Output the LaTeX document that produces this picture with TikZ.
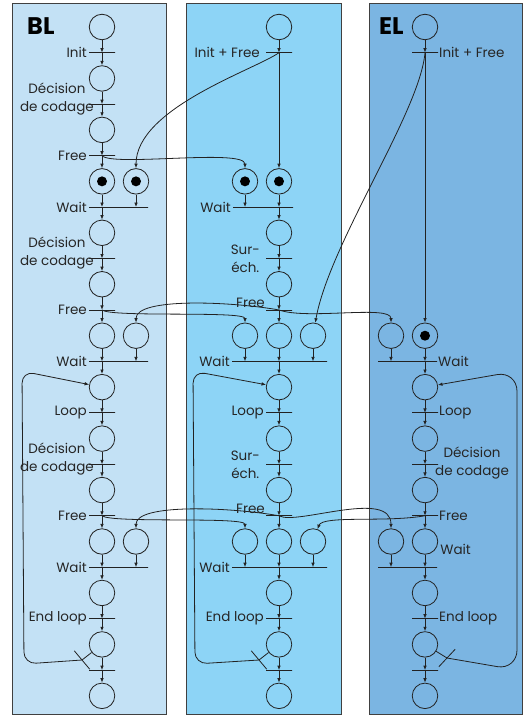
\documentclass[tikz,border=0pt]{standalone}
\usepackage{fontspec}
\setmainfont{Poppins}
\usetikzlibrary{positioning, arrows.meta, calc}

\definecolor{blpanel}{HTML}{C3E1F5}
\definecolor{mdpanel}{HTML}{8DD4F6}
\definecolor{elpanel}{HTML}{7BB5E2}
\definecolor{netline}{HTML}{222222}

\tikzset{
  place/.style={circle, draw=netline, line width=0.8pt, minimum size=25.5pt, inner sep=0pt},
  marked/.style={place, path picture={\fill[black] (path picture bounding box.center) circle (5pt);}},
  bar/.style={draw=netline, line width=0.8pt, minimum width=26pt, minimum height=0pt, inner sep=0pt, outer sep=0pt},
  arr/.style={-{Latex[length=4.5pt, width=3.6pt]}, line width=0.8pt, draw=netline},
  lbl/.style={font=\fontsize{13.5}{18}\selectfont, text=black!85, inner sep=1pt},
  panelname/.style={font=\fontsize{24}{24}\selectfont\bfseries, inner sep=0pt}
}

\begin{document}
\begin{tikzpicture}[x=1pt, y=-1pt]
  \def\xb{102}
  \def\xm{279}
  \def\xe{425}
  \def\dy{51.45}
  \useasboundingbox (0,0) rectangle (524,717);
  \draw[fill=blpanel, draw=black!75, line width=0.9pt] (12,3) rectangle (166,714);
  \draw[fill=mdpanel, draw=black!75, line width=0.9pt] (186,3) rectangle (341,714);
  \draw[fill=elpanel, draw=black!75, line width=0.9pt] (369,3) rectangle (522,714);
  \node[panelname, anchor=base west] (tbl) at (27,35) {BL};
  \node[panelname, anchor=base west] (tel) at (379,35) {EL};

  % BL
  \foreach \k in {0,1,2,4,5,...,13}
    \node[place] (b\k) at (\xb,{27+\dy*\k}) {};
  \node[marked] (b3) at (\xb,{27+\dy*3}) {};
  \node[marked] (bs3) at (\xb+34,{27+\dy*3}) {};
  \node[place] (bs6) at (\xb+34,{27+\dy*6}) {};
  \node[place] (bs10) at (\xb+34,{27+\dy*10}) {};
  \foreach \k in {0,1,2,4,5,7,8,9,11,12}
    \node[bar] (bt\k) at (\xb,{52.7+\dy*\k}) {};
  \foreach \k in {3,6,10}
    \node[bar, minimum width=59pt] (bt\k) at (\xb+16.5,{52.7+\dy*\k}) {};
  \node[bar, minimum width=24pt, rotate=-50] (bx) at (82,660) {};
  \foreach \k [count=\n] in {0,...,12} {
    \draw[arr] (b\k) -- (b\k |- bt\k);
    \draw[arr] (b\k |- bt\k) -- (b\n);
  }
  \foreach \k in {3,6,10}
    \draw[arr] (bs\k) -- (bs\k |- bt\k);
  \draw[arr, -] (b12) -- (bx.center);
  \draw[arr, rounded corners=12pt] (bx.center) -- ++(-58,4) -- ($(b7)+(-80,-16)$) -- (b7);
  \foreach \k/\txt in {0/Init, 2/Free, 3/Wait, 5/Free, 6/Wait, 7/Loop, 9/Free, 10/Wait, 11/End loop}
    \node[lbl, left=1pt of bt\k] (lb\k) {\txt};
  \foreach \k in {1,4,8}
    \node[lbl, align=center, left=-6pt of bt\k, yshift=5pt] (lb\k) {Décision\\de codage};

  % middle
  \foreach \k in {0,4,5,...,13}
    \node[place] (m\k) at (\xm,{27+\dy*\k}) {};
  \node[marked] (m3) at (\xm,{27+\dy*3}) {};
  \node[marked] (ml3) at (\xm-34,{27+\dy*3}) {};
  \foreach \k in {6,10} {
    \node[place] (ml\k) at (\xm-34,{27+\dy*\k}) {};
    \node[place] (mr\k) at (\xm+34,{27+\dy*\k}) {};
  }
  \foreach \k in {0,4,5,7,8,9,11,12}
    \node[bar] (mt\k) at (\xm,{52.7+\dy*\k}) {};
  \node[bar, minimum width=60pt] (mt3) at (\xm-16,{52.7+\dy*3}) {};
  \foreach \k in {6,10}
    \node[bar, minimum width=95pt] (mt\k) at (\xm+0.5,{52.7+\dy*\k}) {};
  \node[bar, minimum width=24pt, rotate=-50] (mx) at (259,660) {};
  \draw[arr] (m0) -- (m0 |- mt0);
  \draw[arr] (mt0.center) -- (m3);
  \foreach \k [count=\n from 4] in {3,...,12} {
    \draw[arr] (m\k) -- (m\k |- mt\k);
    \draw[arr] (m\k |- mt\k) -- (m\n);
  }
  \draw[arr] (ml3) -- (ml3 |- mt3);
  \foreach \k in {6,10} {
    \draw[arr] (ml\k) -- (ml\k |- mt\k);
    \draw[arr] (mr\k) -- (mr\k |- mt\k);
  }
  \draw[arr, -] (m12) -- (mx.center);
  \draw[arr, rounded corners=12pt] (mx.center) -- ++(-64,4) -- ($(m7)+(-86,-16)$) -- (m7);
  \foreach \k/\txt in {3/Wait, 6/Wait, 7/Loop, 10/Wait, 11/End loop}
    \node[lbl, left=1pt of mt\k] (lm\k) {\txt};
  \node[lbl, left=5pt of mt0] (lm0) {Init + Free};
  \foreach \k in {4,8}
    \node[lbl, align=center, left=5pt of mt\k] (lm\k) {Sur-\\éch.};
  \foreach \k in {5,9}
    \node[lbl, anchor=south east] (lm\k) at ([yshift=1pt]mt\k.west) {Free};

  % EL
  \foreach \k in {0,7,8,...,13}
    \node[place] (e\k) at (\xe,{27+\dy*\k}) {};
  \node[marked] (e6) at (\xe,{27+\dy*6}) {};
  \foreach \k in {6,10}
    \node[place] (el\k) at (\xe-34,{27+\dy*\k}) {};
  \foreach \k in {0,7,8,9,11,12}
    \node[bar] (et\k) at (\xe,{52.7+\dy*\k}) {};
  \foreach \k in {6,10}
    \node[bar, minimum width=59pt] (et\k) at (\xe-17.5,{52.7+\dy*\k}) {};
  \node[bar, minimum width=24pt, rotate=47] (ex) at (447,658) {};
  \draw[arr] (e0) -- (e0 |- et0);
  \draw[arr] (et0.center) -- (e6);
  \foreach \k [count=\n from 7] in {6,...,12} {
    \draw[arr] (e\k) -- (e\k |- et\k);
    \draw[arr] (e\k |- et\k) -- (e\n);
  }
  \foreach \k in {6,10}
    \draw[arr] (el\k) -- (el\k |- et\k);
  \draw[arr, -] (e12) -- (ex.center);
  \draw[arr, rounded corners=20pt] (ex.center) -- ++(70,12) -- ($(e7)+(92,-16)$) -- (e7);
  \foreach \k/\txt in {0/Init + Free, 6/Wait, 7/Loop, 9/Free, 11/End loop}
    \node[lbl, right=0pt of et\k] (le\k) {\txt};
  \node[lbl, align=center, right=-4pt of et8, yshift=1pt] (le8) {Décision\\de codage};
  \node[lbl, right=1pt of e10, yshift=-8pt] (le10) {Wait};

  % exchanges between the columns
  \draw[arr] (mt0.center) to[out=215, in=90, out distance=30pt, in distance=60pt] (bs3);
  \draw[arr] (bt2.center) to[out=-50, in=90, out distance=15pt, in distance=20pt] (ml3);
  \draw[arr] (et0.center) to[out=-95, in=80, out distance=60pt, in distance=80pt] (mr6);
  \draw[arr] (bt5.center) to[out=-40, in=90, out distance=12pt, in distance=12pt] (ml6);
  \draw[arr] (mt5.center) to[out=170, in=90, out distance=50pt, in distance=25pt] (bs6);
  \draw[arr] (mt5.center) to[out=-20, in=90, out distance=30pt, in distance=18pt] (el6);
  \draw[arr] (bt9.center) to[out=-40, in=90, out distance=12pt, in distance=12pt] (ml10);
  \draw[arr] (mt9.center) to[out=170, in=90, out distance=50pt, in distance=25pt] (bs10);
  \draw[arr] (mt9.center) to[out=-30, in=90, out distance=20pt, in distance=40pt] (el10);
  \draw[arr] (et9.center) to[out=-170, in=70, out distance=40pt, in distance=15pt] (mr10);
\end{tikzpicture}
\end{document}
